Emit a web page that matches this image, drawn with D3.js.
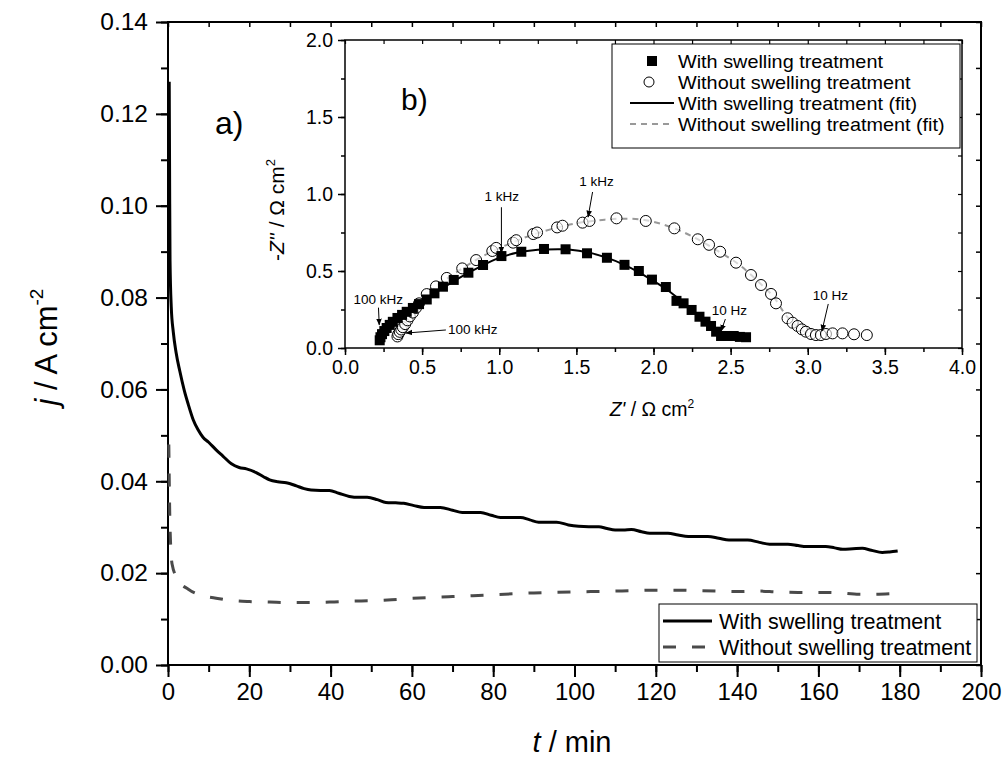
<!DOCTYPE html>
<html>
<head>
<meta charset="utf-8">
<script src="https://cdn.jsdelivr.net/npm/d3@7"></script>
<style>
  html, body { margin: 0; padding: 0; background: #fff; }
  svg { display: block; font-family: "Liberation Sans", Arial, sans-serif; }
</style>
</head>
<body>
<svg id="chart" width="1006" height="764"></svg>
<script>
// ---------- DATA ----------
// Main chart: current density vs time
const timeWith = [0.3,0.4,0.5,0.8,1.3,2.0,2.9,4.0,5.0,6.2,7.4,8.6,10,11.9,13.5,15.6,17.5,19.3,21.7,23.5,25,27,29.1,31.6,33.5,35.2,37.5,39.7,42,44.6,47,49,51.5,53.6,56,58,60.5,63,65,67,70,72.4,75,76.9,79.5,81.8,84,86.7,89,91.2,93.5,95.6,98.5,101,103.5,106,108,110,112,114,116.5,118.5,121,123,125.5,128,130.5,132.8,135.5,138,140,142.6,145.5,148,150,152.5,155,157,159.5,161.8,164,166,168.5,170.8,173,175.7,177.5,179.5];
const jWith = [0.127,0.105,0.088,0.078,0.0725,0.068,0.064,0.0598,0.0567,0.0534,0.0512,0.0496,0.0485,0.0468,0.0455,0.0438,0.043,0.0427,0.0419,0.041,0.0403,0.0399,0.0397,0.039,0.0384,0.0381,0.038,0.038,0.0374,0.0367,0.0365,0.0365,0.036,0.0354,0.0353,0.0352,0.0347,0.0343,0.0343,0.0343,0.0337,0.0332,0.0332,0.0332,0.0326,0.0321,0.0321,0.0321,0.0316,0.0311,0.0311,0.0311,0.0305,0.0302,0.0301,0.0301,0.0297,0.0294,0.0294,0.0295,0.029,0.0287,0.0287,0.0287,0.0283,0.028,0.028,0.028,0.0276,0.0272,0.0272,0.0272,0.0267,0.0263,0.0263,0.0263,0.026,0.0258,0.0258,0.0258,0.0255,0.0252,0.0253,0.0254,0.025,0.0245,0.0246,0.0248];
const timeWithout = [0.2,0.5,1.0,2.5,5,9,11.5,15,20,25,30,35,40,45,50,55,60,65,70,75,80,85,90,95,100,105,110,115,120,125,130,135,140,145,150,155,160,165,170,174,177.5];
const jWithout = [0.048,0.030,0.022,0.0185,0.0165,0.015,0.0146,0.0141,0.0138,0.0137,0.0136,0.0136,0.0137,0.0139,0.014,0.0142,0.0145,0.0147,0.0149,0.0151,0.0153,0.0155,0.0157,0.0158,0.0159,0.016,0.0161,0.0162,0.0163,0.0163,0.0162,0.0161,0.016,0.0161,0.0159,0.0158,0.0158,0.0157,0.0154,0.0154,0.0155];
const mainSeriesNames = ["With swelling treatment", "Without swelling treatment"];
const mainXTicks = [0,20,40,60,80,100,120,140,160,180,200];
const mainYTicks = [0.00,0.02,0.04,0.06,0.08,0.10,0.12,0.14];

// Inset: Nyquist plot
const zReWith = [0.225,0.23,0.24,0.255,0.27,0.29,0.31,0.34,0.37,0.40,0.44,0.48,0.53,0.58,0.635,0.705,0.80,0.895,1.014,1.143,1.29,1.43,1.569,1.698,1.812,1.905,1.99,2.08,2.149,2.195,2.247,2.298,2.337,2.373,2.406,2.438,2.48,2.52,2.56,2.60];
const zImWith = [0.05,0.07,0.09,0.11,0.13,0.15,0.17,0.195,0.215,0.235,0.26,0.285,0.315,0.355,0.398,0.442,0.489,0.539,0.597,0.625,0.643,0.641,0.615,0.586,0.54,0.50,0.444,0.396,0.306,0.29,0.247,0.203,0.171,0.143,0.106,0.078,0.078,0.078,0.072,0.07];
const zReWithout = [0.34,0.345,0.355,0.365,0.375,0.39,0.405,0.42,0.44,0.46,0.48,0.53,0.59,0.66,0.76,0.85,0.955,0.98,1.09,1.11,1.22,1.245,1.375,1.41,1.54,1.585,1.76,1.95,2.135,2.287,2.36,2.432,2.535,2.632,2.697,2.762,2.794,2.869,2.902,2.934,2.962,2.988,3.021,3.053,3.085,3.118,3.161,3.225,3.30,3.383];
const zImWithout = [0.075,0.09,0.105,0.12,0.135,0.155,0.18,0.205,0.23,0.26,0.29,0.35,0.40,0.455,0.517,0.571,0.63,0.65,0.684,0.70,0.74,0.75,0.783,0.794,0.814,0.825,0.842,0.825,0.777,0.706,0.67,0.625,0.554,0.474,0.409,0.351,0.29,0.193,0.164,0.143,0.121,0.106,0.091,0.084,0.084,0.091,0.095,0.095,0.089,0.084];
const fitReWith = [0.22,0.26,0.30,0.40,0.50,0.62,0.75,0.88,1.0,1.12,1.25,1.38,1.45,1.58,1.70,1.80,1.90,2.00,2.10,2.18,2.25,2.32,2.38,2.42,2.44];
const fitImWith = [0.05,0.11,0.16,0.235,0.30,0.38,0.46,0.53,0.585,0.620,0.638,0.642,0.64,0.620,0.585,0.545,0.495,0.435,0.37,0.305,0.245,0.18,0.13,0.095,0.08];
const fitReWithout = [0.34,0.37,0.40,0.45,0.52,0.62,0.75,0.90,1.05,1.20,1.35,1.50,1.65,1.80,1.95,2.10,2.25,2.40,2.55,2.68,2.78,2.86,2.92,2.97,3.02];
const fitImWithout = [0.075,0.13,0.18,0.245,0.33,0.42,0.51,0.60,0.67,0.73,0.775,0.81,0.83,0.84,0.83,0.79,0.725,0.64,0.545,0.43,0.33,0.21,0.15,0.11,0.095];
const insetSeriesNames = ["With swelling treatment", "Without swelling treatment", "With swelling treatment (fit)", "Without swelling treatment (fit)"];
const insetXTicks = [0.0,0.5,1.0,1.5,2.0,2.5,3.0,3.5,4.0];
const insetYTicks = [0.0,0.5,1.0,1.5,2.0];
// frequency annotations: label position, arrow start, arrow end (data units)
const annLabels = ["100 kHz","100 kHz","1 kHz","1 kHz","10 Hz","10 Hz"];
const annTextPos = [[0.215,0.286],[0.667,0.091],[1.016,0.955],[1.631,1.052],[2.492,0.214],[3.146,0.312]];
const annArrowFrom = [[0.217,0.262],[0.654,0.117],[1.014,0.914],[1.605,1.013],[2.466,0.188],[3.133,0.286]];
const annArrowTo = [[0.222,0.15],[0.395,0.097],[1.014,0.617],[1.576,0.851],[2.438,0.11],[3.092,0.11]];
const annAnchor = ["middle","start","middle","middle","middle","middle"];

// ---------- DRAW ----------
const svg = d3.select("#chart");
const FONT = '"Liberation Sans", Arial, sans-serif';

const defs = svg.append("defs");
defs.append("marker").attr("id","arrow").attr("viewBox","0 0 10 10")
  .attr("refX",9).attr("refY",5).attr("markerWidth",7).attr("markerHeight",9)
  .attr("markerUnits","userSpaceOnUse").attr("orient","auto")
  .append("path").attr("d","M0,1 L10,5 L0,9 Z").attr("fill","#000");

// Main scales
const x = d3.scaleLinear().domain([0,200]).range([168,981]);
const y = d3.scaleLinear().domain([0,0.14]).range([665,22]);

const main = svg.append("g");

function styleAxis(g, w) {
  g.select(".domain").remove();
  g.selectAll(".tick line").attr("stroke","#000").attr("stroke-width", w);
}

const xMinor = d3.range(0,201,10);
const yMinor = d3.range(0,0.1401,0.01);

// bottom
main.append("g").attr("transform","translate(0,665)")
  .call(d3.axisBottom(x).tickValues(xMinor).tickSize(7).tickFormat(""))
  .call(g=>styleAxis(g,2));
main.append("g").attr("transform","translate(0,665)")
  .call(d3.axisBottom(x).tickValues(mainXTicks).tickSize(12).tickPadding(6).tickFormat(d3.format("d")))
  .call(g=>styleAxis(g,2))
  .call(g=>g.selectAll("text").attr("font-size",24).attr("font-family",FONT).attr("fill","#000"));
// top (inward)
main.append("g").attr("transform","translate(0,22)")
  .call(d3.axisBottom(x).tickValues(xMinor).tickSize(5).tickFormat(""))
  .call(g=>styleAxis(g,1.5));
// left
main.append("g").attr("transform","translate(168,0)")
  .call(d3.axisLeft(y).tickValues(yMinor).tickSize(7).tickFormat(""))
  .call(g=>styleAxis(g,2));
main.append("g").attr("transform","translate(168,0)")
  .call(d3.axisLeft(y).tickValues(mainYTicks).tickSize(12).tickPadding(8).tickFormat(d3.format(".2f")))
  .call(g=>styleAxis(g,2))
  .call(g=>g.selectAll("text").attr("font-size",24.5).attr("font-family",FONT).attr("fill","#000"));
// right (inward)
main.append("g").attr("transform","translate(981,0)")
  .call(d3.axisLeft(y).tickValues(yMinor).tickSize(5).tickFormat(""))
  .call(g=>styleAxis(g,1.5));

// frame
main.append("rect").attr("x",x(0)).attr("y",y(0.14)).attr("width",x(200)-x(0)).attr("height",y(0)-y(0.14))
  .attr("fill","none").attr("stroke","#000").attr("stroke-width",2);

// curves
const withData = timeWith.map((t,i)=>({t, j:jWith[i]}));
const withoutData = timeWithout.map((t,i)=>({t, j:jWithout[i]}));
const lineMain = d3.line().x(d=>x(d.t)).y(d=>y(d.j)).curve(d3.curveMonotoneX);
main.append("path").datum(withoutData).attr("d",lineMain).attr("fill","none")
  .attr("stroke","#4a4a4a").attr("stroke-width",3).attr("stroke-dasharray","13,16");
main.append("path").datum(withData).attr("d",lineMain).attr("fill","none")
  .attr("stroke","#000").attr("stroke-width",3);

// axis titles
main.append("text").attr("x",572).attr("y",752).attr("text-anchor","middle")
  .attr("font-size",29).attr("font-family",FONT)
  .call(t=>{ t.append("tspan").attr("font-style","italic").text("t"); t.append("tspan").text(" / min"); });
main.append("text").attr("transform","translate(57,347) rotate(-90)").attr("text-anchor","middle")
  .attr("font-size",31).attr("font-family",FONT)
  .call(t=>{ t.append("tspan").attr("font-style","italic").text("j");
             t.append("tspan").text(" / A cm");
             t.append("tspan").attr("font-size",19).attr("dy",-14).text("-2"); });

main.append("text").attr("x",215).attr("y",134).attr("font-size",32).attr("font-family",FONT).text("a)");

// main legend
const lg = main.append("g");
lg.append("rect").attr("x",659).attr("y",604).attr("width",318).attr("height",58)
  .attr("fill","#fff").attr("stroke","#000").attr("stroke-width",1);
const lgRows = [621,647];
mainSeriesNames.forEach((name,i)=>{
  lg.append("line").attr("x1",663).attr("x2",712).attr("y1",lgRows[i]).attr("y2",lgRows[i])
    .attr("stroke", i===0 ? "#000" : "#4a4a4a").attr("stroke-width",3)
    .attr("stroke-dasharray", i===0 ? null : "13,16");
  lg.append("text").attr("x",719).attr("y",lgRows[i]+7.5).attr("font-size",21.5).attr("font-family",FONT).text(name);
});

// ---------- INSET ----------
const xi = d3.scaleLinear().domain([0,4]).range([345,962]);
const yi = d3.scaleLinear().domain([0,2]).range([348,40]);
const inset = svg.append("g");
inset.append("rect").attr("x",xi(0)).attr("y",yi(2)).attr("width",xi(4)-xi(0)).attr("height",yi(0)-yi(2))
  .attr("fill","#fff");

const xiMinor = d3.range(0,4.001,0.25);
const yiMinor = d3.range(0,2.001,0.25);
inset.append("g").attr("transform",`translate(0,${yi(0)})`)
  .call(d3.axisBottom(xi).tickValues(xiMinor).tickSize(4).tickFormat(""))
  .call(g=>styleAxis(g,1.5));
inset.append("g").attr("transform",`translate(0,${yi(0)})`)
  .call(d3.axisBottom(xi).tickValues(insetXTicks).tickSize(7).tickPadding(5).tickFormat(d3.format(".1f")))
  .call(g=>styleAxis(g,1.5))
  .call(g=>g.selectAll("text").attr("font-size",19.5).attr("font-family",FONT).attr("fill","#000"));
inset.append("g").attr("transform",`translate(0,${yi(2)})`)
  .call(d3.axisBottom(xi).tickValues(xiMinor).tickSize(4).tickFormat(""))
  .call(g=>styleAxis(g,1.2));
inset.append("g").attr("transform",`translate(${xi(0)},0)`)
  .call(d3.axisLeft(yi).tickValues(yiMinor).tickSize(4).tickFormat(""))
  .call(g=>styleAxis(g,1.5));
inset.append("g").attr("transform",`translate(${xi(0)},0)`)
  .call(d3.axisLeft(yi).tickValues(insetYTicks).tickSize(7).tickPadding(5).tickFormat(d3.format(".1f")))
  .call(g=>styleAxis(g,1.5))
  .call(g=>g.selectAll("text").attr("font-size",19.5).attr("font-family",FONT).attr("fill","#000"));
inset.append("g").attr("transform",`translate(${xi(4)},0)`)
  .call(d3.axisLeft(yi).tickValues(yiMinor).tickSize(4).tickFormat(""))
  .call(g=>styleAxis(g,1.2));
inset.append("rect").attr("x",xi(0)).attr("y",yi(2)).attr("width",xi(4)-xi(0)).attr("height",yi(0)-yi(2))
  .attr("fill","none").attr("stroke","#000").attr("stroke-width",1.5);

// fits
const fitW = fitReWith.map((r,i)=>({r, im:fitImWith[i]}));
const fitWo = fitReWithout.map((r,i)=>({r, im:fitImWithout[i]}));
const lineI = d3.line().x(d=>xi(d.r)).y(d=>yi(d.im)).curve(d3.curveCatmullRom);
inset.append("path").datum(fitWo).attr("d",lineI).attr("fill","none")
  .attr("stroke","#999").attr("stroke-width",2).attr("stroke-dasharray","6,5");
inset.append("path").datum(fitW).attr("d",lineI).attr("fill","none")
  .attr("stroke","#000").attr("stroke-width",2);

// points
const ptsW = zReWith.map((r,i)=>({r, im:zImWith[i]}));
const ptsWo = zReWithout.map((r,i)=>({r, im:zImWithout[i]}));
inset.append("g").selectAll("circle").data(ptsWo).join("circle")
  .attr("cx",d=>xi(d.r)).attr("cy",d=>yi(d.im)).attr("r",5.5)
  .attr("fill","#fff").attr("fill-opacity",0.6).attr("stroke","#000").attr("stroke-width",1);
inset.append("g").selectAll("rect").data(ptsW).join("rect")
  .attr("x",d=>xi(d.r)-5).attr("y",d=>yi(d.im)-5).attr("width",10).attr("height",10)
  .attr("fill","#000");

// annotations
annLabels.forEach((lab,i)=>{
  inset.append("text").attr("x",xi(annTextPos[i][0])).attr("y",yi(annTextPos[i][1]))
    .attr("text-anchor",annAnchor[i]).attr("font-size",13.5).attr("font-family",FONT).text(lab);
  inset.append("line").attr("x1",xi(annArrowFrom[i][0])).attr("y1",yi(annArrowFrom[i][1]))
    .attr("x2",xi(annArrowTo[i][0])).attr("y2",yi(annArrowTo[i][1]))
    .attr("stroke","#000").attr("stroke-width",1).attr("marker-end","url(#arrow)");
});

// inset titles
inset.append("text").attr("x",652).attr("y",416).attr("text-anchor","middle")
  .attr("font-size",19.5).attr("font-family",FONT)
  .call(t=>{ t.append("tspan").attr("font-style","italic").text("Z'");
             t.append("tspan").text(" / Ω cm");
             t.append("tspan").attr("font-size",12).attr("dy",-8).text("2"); });
inset.append("text").attr("transform","translate(284,210) rotate(-90)").attr("text-anchor","middle")
  .attr("font-size",21).attr("font-family",FONT)
  .call(t=>{ t.append("tspan").text("-");
             t.append("tspan").attr("font-style","italic").text("Z''");
             t.append("tspan").text(" / Ω cm");
             t.append("tspan").attr("font-size",13).attr("dy",-9).text("2"); });
inset.append("text").attr("x",401).attr("y",110).attr("font-size",30).attr("font-family",FONT).text("b)");

// inset legend
const il = inset.append("g");
il.append("rect").attr("x",612).attr("y",44).attr("width",348).attr("height",104)
  .attr("fill","#fff").attr("stroke","#000").attr("stroke-width",1);
const ilRows = [61,82,103,124];
il.append("rect").attr("x",647).attr("y",ilRows[0]-5).attr("width",10).attr("height",10).attr("fill","#000");
il.append("circle").attr("cx",649).attr("cy",ilRows[1]).attr("r",5).attr("fill","#fff").attr("stroke","#000").attr("stroke-width",1);
il.append("line").attr("x1",630).attr("x2",674).attr("y1",ilRows[2]).attr("y2",ilRows[2]).attr("stroke","#000").attr("stroke-width",2);
il.append("line").attr("x1",630).attr("x2",674).attr("y1",ilRows[3]).attr("y2",ilRows[3]).attr("stroke","#999").attr("stroke-width",2).attr("stroke-dasharray","6,5");
insetSeriesNames.forEach((name,i)=>{
  const t = il.append("text").attr("x",678).attr("y",ilRows[i]+6.5).attr("font-size",18.2).attr("font-family",FONT).text(name);
  const w = t.node().getComputedTextLength();
  t.attr("textLength", w*1.09).attr("lengthAdjust","spacingAndGlyphs");
});
</script>
</body>
</html>
